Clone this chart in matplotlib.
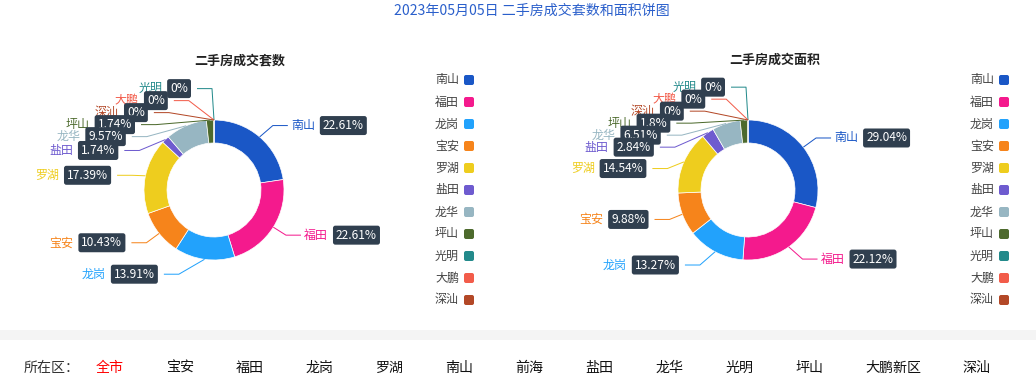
import numpy as np
import matplotlib
matplotlib.use('Agg')
import matplotlib.pyplot as plt
from matplotlib.patches import FancyBboxPatch, Rectangle

plt.rcParams['font.family'] = ['Noto Sans CJK SC', 'DejaVu Sans']

# ---------------- data ----------------
title = '2023年05月05日 二手房成交套数和面积饼图'
sub_titles = ['二手房成交套数', '二手房成交面积']
districts = ['南山', '福田', '龙岗', '宝安', '罗湖', '盐田', '龙华', '坪山', '光明', '大鹏', '深汕']
count_pct = [22.61, 22.61, 13.91, 10.43, 17.39, 1.74, 9.57, 1.74, 0, 0, 0]
area_pct = [29.04, 22.12, 13.27, 9.88, 14.54, 2.84, 6.51, 1.8, 0, 0, 0]
nav_label = '所在区：'
nav_items = ['全市', '宝安', '福田', '龙岗', '罗湖', '南山', '前海', '盐田', '龙华', '光明', '坪山', '大鹏新区', '深汕']

# ---------------- style ----------------
colors = ['#1a57c6', '#f41a8d', '#22a2fc', '#f6841b', '#eecd1e', '#6e5bcf',
          '#97b6c2', '#4d6a2d', '#238a8b', '#f25c4a', '#b34827']
BOX = '#303f4f'
W, H, DPI = 1036, 390, 100
PT = 72.0 / DPI  # points per pixel

fig = plt.figure(figsize=(W / DPI, H / DPI), dpi=DPI)
ax = fig.add_axes([0, 0, 1, 1])


def reset_axes():
    ax.set_xlim(0, W)
    ax.set_ylim(0, H)
    ax.set_aspect('auto')
    ax.axis('off')


def Y(py):
    return H - py


def fmt(v):
    s = ('%.2f' % v).rstrip('0').rstrip('.')
    return s + '%'


R_OUT, R_IN = 70, 47
LEN1, LEN2 = 15, 15
R_LABEL = 98
GAP = 12
W_TD = 0.6

renderer = fig.canvas.get_renderer()


def layout_side(items):
    items.sort(key=lambda d: d['ny'])
    n = len(items)
    td = [0.0] * n
    bu = [0.0] * n
    for i, d in enumerate(items):
        td[i] = d['ny'] if i == 0 else max(d['ny'], td[i - 1] + GAP)
    for i in range(n - 1, -1, -1):
        d = items[i]
        bu[i] = d['ny'] if i == n - 1 else min(d['ny'], bu[i + 1] - GAP)
    for i, d in enumerate(items):
        d['ly'] = W_TD * td[i] + (1 - W_TD) * bu[i]


def draw_donut(values, cx, cy, legend_x, sub_x, sub):
    vals = np.array(values, dtype=float)
    ax.pie(vals, colors=colors, startangle=90, counterclock=False, radius=R_OUT,
           center=(cx, Y(cy)),
           wedgeprops=dict(width=R_OUT - R_IN, edgecolor='white', linewidth=0.5))
    reset_axes()
    total = vals.sum()
    start = np.cumsum(vals) - vals
    mid = (start + vals / 2) / total
    theta = np.deg2rad(90 - 360 * mid)
    left, right = [], []
    for i, name in enumerate(districts):
        c, s = np.cos(theta[i]), np.sin(theta[i])
        d = dict(i=i, name=name, dir=1 if c > 1e-6 else -1,
                 p0=(cx + R_OUT * c, cy - R_OUT * s),
                 ny=cy - (R_OUT + LEN1) * s)
        (right if d['dir'] > 0 else left).append(d)
    layout_side(left)
    layout_side(right)
    for d in left + right:
        i = d['i']
        col = colors[i]
        dy = d['ly'] - cy
        dx = max(np.sqrt(max(R_LABEL ** 2 - dy ** 2, 0.0)), 17)
        lx = cx + d['dir'] * dx
        ly = d['ly']
        ex = lx - d['dir'] * LEN2
        ax.plot([d['p0'][0], ex, lx], [Y(d['p0'][1]), Y(ly), Y(ly)], color=col,
                lw=1 * PT, solid_capstyle='butt', zorder=3)
        fs = 12 * PT
        bbox = dict(boxstyle='round,pad=0.25,rounding_size=0.2', fc=BOX, ec='none')
        if d['dir'] > 0:
            tn = ax.text(lx + 3, Y(ly), d['name'], color=col, fontsize=fs,
                         ha='left', va='center', zorder=4)
            bb = tn.get_window_extent(renderer)
            ax.text(bb.x1 + 5 + 3, Y(ly), fmt(values[i]), color='white', fontsize=fs,
                    ha='left', va='center', bbox=bbox, zorder=4)
        else:
            tp = ax.text(lx - 6 - 3, Y(ly), fmt(values[i]), color='white', fontsize=fs,
                         ha='right', va='center', bbox=bbox, zorder=4)
            bb = tp.get_window_extent(renderer)
            ax.text(bb.x0 - 3 - 5, Y(ly), d['name'], color=col, fontsize=fs,
                    ha='right', va='center', zorder=4)
    # legend
    for i, name in enumerate(districts):
        yy = 80 + 22 * i
        ax.text(legend_x, Y(yy), name, color='#444444', fontsize=12 * PT,
                ha='right', va='center')
        ax.add_patch(FancyBboxPatch((legend_x + 5, Y(yy) - 5), 10, 10,
                                    boxstyle='round,pad=0,rounding_size=2',
                                    fc=colors[i], ec='none'))
    ax.text(sub_x, Y(60), sub, color='#222222', fontsize=13 * PT,
            fontweight='bold', ha='center', va='center')


reset_axes()
draw_donut(count_pct, 214, 190, 459, 240, sub_titles[0])
draw_donut(area_pct, 748, 190, 994, 775, sub_titles[1])
reset_axes()

ax.text(532, Y(11), title, color='#2a5fcb', fontsize=14 * PT, ha='center', va='center')

# bottom separator band and district navigation
ax.add_patch(Rectangle((0, Y(340)), W, 10, fc='#f4f4f4', ec='none'))
ax.text(24, Y(368), nav_label, color='#333333', fontsize=14 * PT, ha='left', va='center')
x = 96
for k, item in enumerate(nav_items):
    ax.text(x, Y(368), item, color='#ff0000' if k == 0 else '#111111',
            fontsize=14 * PT, ha='left', va='center')
    x += len(item) * 14 + 41.9

fig.savefig('out.png', dpi=DPI)
